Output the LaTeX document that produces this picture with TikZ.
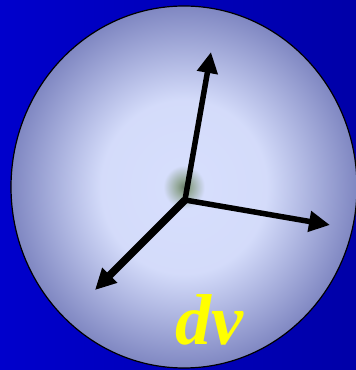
\documentclass[tikz,border=0pt]{standalone}
\usepackage{fontspec}
\setmainfont{Liberation Serif}
\usetikzlibrary{arrows.meta}
\definecolor{bgleft}{RGB}{0,0,204}
\definecolor{bgright}{RGB}{0,0,168}
\definecolor{dvyellow}{RGB}{255,255,0}
\pgfdeclareradialshading{ballshade}{\pgfpoint{0bp}{0bp}}{%
  rgb(0bp)=(0.42,0.50,0.42);
  rgb(1bp)=(0.58,0.66,0.60);
  rgb(3bp)=(0.84,0.87,0.99);
  rgb(12bp)=(0.83,0.86,0.98);
  rgb(25bp)=(0.50,0.53,0.76);
  rgb(50bp)=(0.50,0.53,0.76)}

\begin{document}
\begin{tikzpicture}[x=1pt,y=1pt,
    vec/.style={line width=5.5pt,-{Triangle[length=21pt,width=20pt]}}]
        \useasboundingbox (0,0) rectangle (356,370);
        \shade[left color=bgleft,right color=bgright] (0,0) rectangle (356,370);
        \shade[shading=ballshade,draw=black,line width=1.2pt] (184,183) ellipse [x radius=173,y radius=181];
        \coordinate (o) at (185,170);
        \coordinate (up) at (211,318);
        \coordinate (right) at (330,145);
        \coordinate (down) at (95,80);
        \draw[vec] (o) -- (up);
        \draw[vec] (o) -- (right);
        \draw[vec,line width=7.5pt] (o) -- (down);
        \node[dvyellow,anchor=base,inner sep=0pt,font=\fontsize{72}{72}\selectfont\bfseries\itshape] (dv) at (209,25) {dv};
      \end{tikzpicture}
\end{document}
